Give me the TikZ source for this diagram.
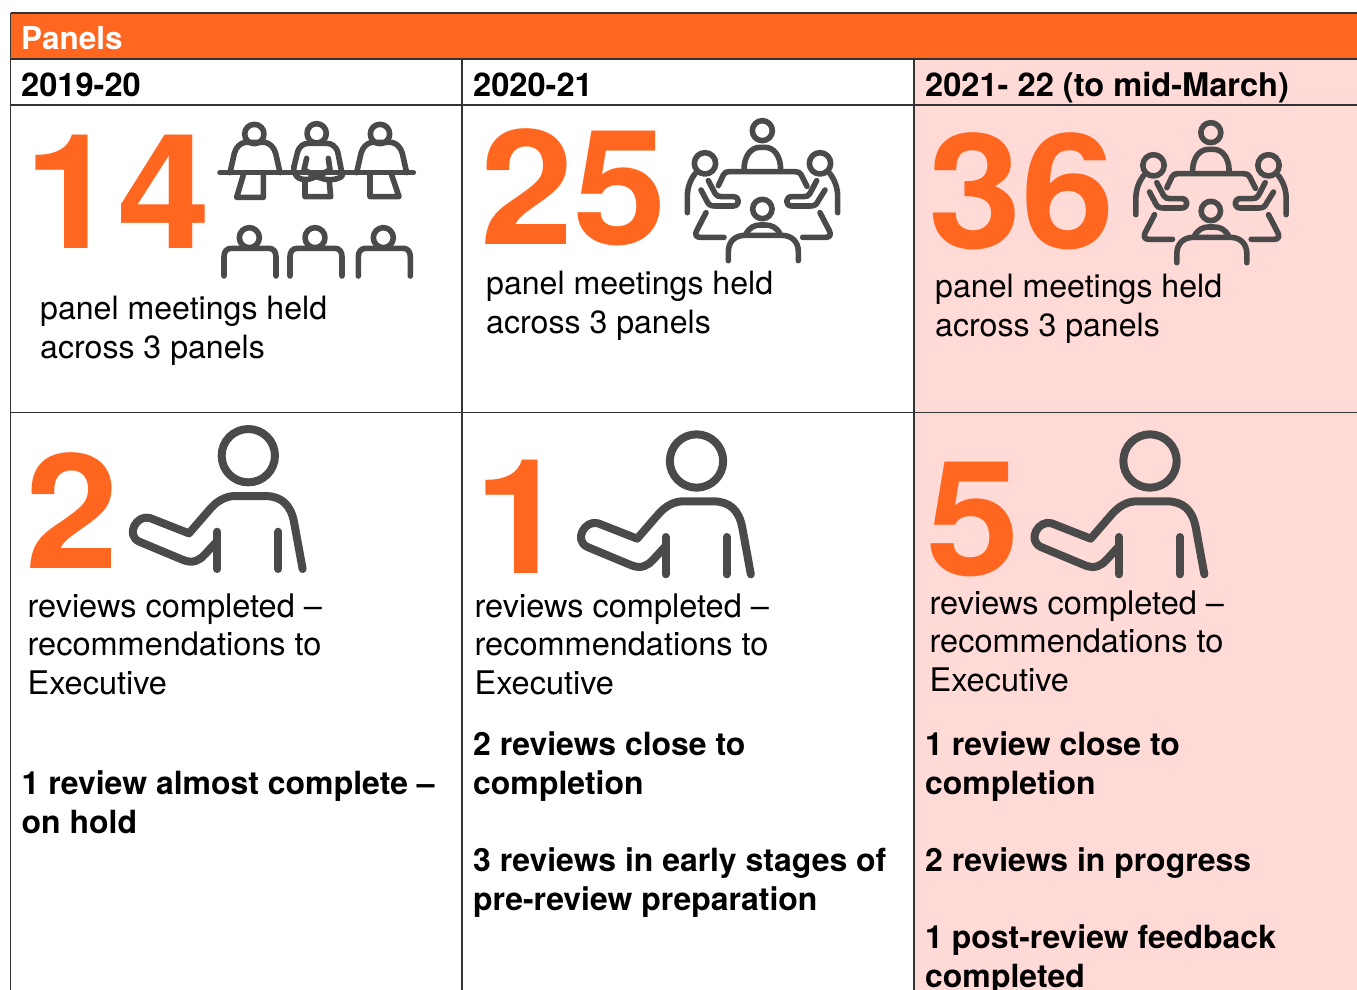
\documentclass[tikz,border=0pt]{standalone}
\usepackage{fontspec}
\setmainfont{TeX Gyre Heros}
\newfontfamily\widebold[FakeStretch=1.05]{TeX Gyre Heros Bold}
\definecolor{hdr}{HTML}{FF6720}
\definecolor{pinkc}{HTML}{FFDAD6}
\definecolor{icon}{HTML}{4A4A4A}
\definecolor{rule}{HTML}{333333}
\tikzset{
 x=1pt,y=-1pt,
 gridline/.style={draw=rule,line width=1.2pt},
 bodytxt/.style={anchor=base west,inner sep=0,align=left,font=\fontsize{32.1}{38.4}\selectfont,text=black},
 revtxt/.style={anchor=base west,inner sep=0,align=left,font=\fontsize{32.5}{38.4}\selectfont,text=black},
 boldtxt/.style={anchor=base west,inner sep=0,align=left,font=\fontsize{31.95}{38.4}\selectfont\bfseries,text=black},
 headtxt/.style={anchor=base west,inner sep=0,font=\fontsize{32.6}{38}\selectfont\bfseries,text=black},
 titletxt/.style={anchor=base west,inner sep=0,font=\fontsize{31.5}{38}\selectfont\bfseries,text=white},
 bignum/.style={anchor=base west,inner sep=0,font=\fontsize{160}{170}\widebold,text=hdr},
 ic/.style={draw=icon,line width=8pt,line cap=round,line join=round},
 icn/.style={draw=icon,line width=5.6pt,line cap=round,line join=round}
}
\newcommand{\reviewer}[2]{\begin{scope}[shift={(#1,#2)},scale=1/3]
 \begin{scope}[shift={(-385,-107)}]
 \draw[ic] (385,107) circle (80);
 \draw[ic] (548,447) -- (522,305) .. controls (512,255) and (485,228) .. (435,228) -- (345,228)
   .. controls (315,228) and (290,245) .. (272,265) -- (207,340) -- (90,294)
   .. controls (50,282) and (15,345) .. (58,365) -- (190,420)
   .. controls (220,432) and (240,420) .. (255,403) -- (290,365);
 \draw[ic] (292,335) -- (292,447);
 \draw[ic] (475,335) -- (475,447);
 \end{scope}\end{scope}}
\newcommand{\meeting}[2]{\begin{scope}[shift={(#1,#2)},scale=1/3]
 \draw[icn] (277,62) circle (30);
 \draw[icn] (222,180) .. controls (222,135) and (245,112) .. (270,112) -- (285,112) .. controls (310,112) and (332,135) .. (332,180);
 \draw[icn] (145,227) -- (160,195) .. controls (164,187) and (168,185) .. (178,185) -- (375,185) .. controls (385,185) and (390,187) .. (394,195) -- (411,229);
 \draw[icn] (105,160) circle (32);
 \draw[icn] (450,160) circle (32);
 \draw[icn] (52,308) -- (52,260) .. controls (52,235) and (60,210) .. (76,190);
 \draw[icn] (503,308) -- (503,260) .. controls (503,235) and (495,210) .. (479,190);
 \draw[icn] (115,212) -- (135,250) .. controls (140,258) and (145,260) .. (155,260) -- (190,260) .. controls (210,260) and (210,288) .. (190,288) -- (135,288) .. controls (120,288) and (115,283) .. (110,272) -- (93,240);
 \draw[icn] (440,212) -- (420,250) .. controls (415,258) and (410,260) .. (400,260) -- (365,260) .. controls (345,260) and (345,288) .. (365,288) -- (420,288) .. controls (435,288) and (440,283) .. (445,272) -- (465,240);
 \draw[icn] (108,308) -- (80,362) .. controls (74,375) and (78,382) .. (92,382) -- (162,382);
 \draw[icn] (450,308) -- (478,362) .. controls (484,375) and (480,382) .. (466,382) -- (398,382);
 \draw[icn] (277,297) circle (29);
 \draw[icn] (228,372) .. controls (238,352) and (255,345) .. (270,345) -- (285,345) .. controls (305,345) and (320,352) .. (330,372);
 \draw[icn] (175,452) -- (175,425) .. controls (175,395) and (195,376) .. (225,376) -- (335,376) .. controls (365,376) and (385,395) .. (385,425) -- (385,452);
 \end{scope}}
\newcommand{\hearing}[2]{\begin{scope}[shift={(#1,#2)},scale=1/3]
 \foreach \hx/\hy in {163/72,350/70,540/72} \draw[icn] (\hx,\hy) circle (29);
 \draw[icn] (60,188) -- (640,188);
 % left figure
 \draw[icn] (90,188) -- (103,130) .. controls (108,112) and (120,100) .. (135,97) -- (195,97) .. controls (210,100) and (222,112) .. (227,130) -- (240,188);
 \draw[icn] (130,195) -- (110,262) -- (190,262) -- (190,195);
 % middle figure
 \draw[icn] (282,170) -- (293,125) .. controls (298,110) and (310,100) .. (325,100) -- (380,100) .. controls (395,100) and (408,110) .. (413,125) -- (425,185);
 \draw[icn] (282,170) .. controls (278,195) and (295,212) .. (325,208) -- (350,200) -- (375,208) .. controls (400,212) and (430,205) .. (430,188);
 \draw[icn] (320,145) -- (312,180) -- (350,200) -- (390,180) -- (385,145);
 \draw[icn] (315,215) -- (315,260) -- (392,260) -- (388,215);
 % right figure
 \draw[icn] (470,188) -- (483,130) .. controls (488,112) and (500,100) .. (515,97) -- (575,97) .. controls (590,100) and (602,112) .. (607,130) -- (620,188);
 \draw[icn] (510,195) -- (510,260) -- (597,260) -- (575,195);
 % lower row
 \foreach \bx/\cx in {72/148,270/345,475/550}{
  \draw[icn] (\bx,498) -- (\bx,440) .. controls (\bx,425) and (\bx+8,415) .. (\bx+22,415) -- (\bx+135,415) .. controls (\bx+148,415) and (\bx+156,425) .. (\bx+156,440) -- (\bx+156,498);
  \draw[icn] (\cx,383) circle (30);
 }
 \end{scope}}
\begin{document}
\begin{tikzpicture}
\clip (0,0) rectangle (1357,990);
\fill[white] (0,0) rectangle (1357,990);
\fill[pinkc] (914,59) rectangle (1357,990);
\fill[hdr] (10,13) rectangle (1357,59);
\draw[gridline] (10.5,13) -- (1357,13);
\draw[gridline] (10.5,59) -- (1357,59);
\draw[gridline] (10.5,105) -- (1357,105);
\draw[gridline] (10.5,412.5) -- (1357,412.5);
\draw[gridline] (10.5,13) -- (10.5,990);
\draw[gridline] (462,59) -- (462,990);
\draw[gridline] (914,59) -- (914,990);

\node[titletxt] (title) at (21,49) {Panels};
\node[headtxt] (y1) at (21,96) {2019-20};
\node[headtxt] (y2) at (473,96) {2020-21};
\node[headtxt] (y3) at (925,96) {2021- 22 (to mid-March)};

\node[bignum] (n14) at (24,248) {14};
\node[bignum] (n25) at (480,244) {25};
\node[bignum] (n36) at (928,248) {36};
\node[bignum] (n2) at (25,568) {2};
\node[bignum] (n1) at (474,573) {1};
\node[bignum] (n5) at (926,575) {5};

\hearing{200}{110}
\meeting{670}{110}
\meeting{1118.5}{112}
\reviewer{248.3}{455.7}
\reviewer{696.5}{461}
\reviewer{1150}{461}

\node[bodytxt] (p1) at (40,358) {panel meetings held\\across 3 panels};
\node[bodytxt] (p2) at (486,333) {panel meetings held\\across 3 panels};
\node[bodytxt] (p3) at (935,336) {panel meetings held\\across 3 panels};
\node[revtxt] (r1) at (27.5,694) {reviews completed –\\recommendations to\\Executive};
\node[revtxt] (r2) at (474.5,694) {reviews completed –\\recommendations to\\Executive};
\node[revtxt] (r3) at (929.5,691) {reviews completed –\\recommendations to\\Executive};
\node[boldtxt] (b1) at (21.5,833) {1 review almost complete –\\on hold};
\node[boldtxt] (b2) at (473,794) {2 reviews close to\\completion};
\node[boldtxt] (b3) at (473,910) {3 reviews in early stages of\\pre-review preparation};
\node[boldtxt] (b4) at (925,794) {1 review close to\\completion};
\node[boldtxt] (b5) at (925,871) {2 reviews in progress};
\node[boldtxt] (b6) at (925,987) {1 post-review feedback\\completed};
\end{tikzpicture}
\end{document}
